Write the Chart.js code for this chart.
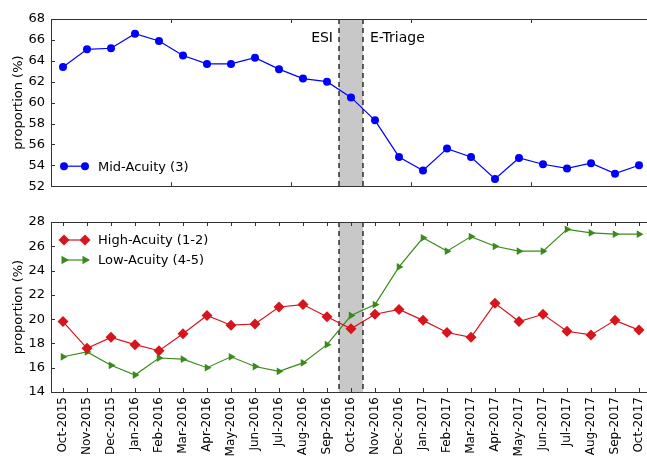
<!DOCTYPE html>
<html>
<head>
<meta charset="utf-8">
<script src="https://cdn.jsdelivr.net/npm/chart.js@4.4.1/dist/chart.umd.min.js"></script>
<style>
  html, body { margin: 0; padding: 0; background: #fff; overflow: hidden; width: 647px; height: 458px; }
  canvas { position: absolute; left: 0; }
  #topChart { top: 0; }
  #bottomChart { top: 200px; }
</style>
</head>
<body>
<canvas id="topChart" width="660" height="200"></canvas>
<canvas id="bottomChart" width="660" height="258"></canvas>
<script>
const months = ['Oct-2015', 'Nov-2015', 'Dec-2015', 'Jan-2016', 'Feb-2016', 'Mar-2016', 'Apr-2016',
  'May-2016', 'Jun-2016', 'Jul-2016', 'Aug-2016', 'Sep-2016', 'Oct-2016', 'Nov-2016', 'Dec-2016',
  'Jan-2017', 'Feb-2017', 'Mar-2017', 'Apr-2017', 'May-2017', 'Jun-2017', 'Jul-2017', 'Aug-2017',
  'Sep-2017', 'Oct-2017'];

const midAcuity = [63.4, 65.1, 65.2, 66.6, 65.9, 64.5, 63.7, 63.7, 64.3, 63.2, 62.3, 62.0, 60.5,
  58.3, 54.8, 53.5, 55.6, 54.8, 52.7, 54.7, 54.1, 53.7, 54.2, 53.2, 54.0];
const highAcuity = [19.8, 17.6, 18.5, 17.9, 17.4, 18.8, 20.3, 19.5, 19.6, 21.0, 21.2, 20.2, 19.2,
  20.4, 20.8, 19.9, 18.9, 18.5, 21.3, 19.8, 20.4, 19.0, 18.7, 19.9, 19.1];
const lowAcuity = [16.9, 17.3, 16.2, 15.4, 16.8, 16.7, 16.0, 16.9, 16.1, 15.7, 16.4, 17.9, 20.3,
  21.2, 24.3, 26.7, 25.6, 26.8, 26.0, 25.6, 25.6, 27.4, 27.1, 27.0, 27.0];

// changeover window (month index) and the labels on each side of it
const switchFrom = 11.5;
const switchTo = 12.5;
const phaseBefore = 'ESI';
const phaseAfter = 'E-Triage';

const FONT = "'DejaVu Sans', sans-serif";
Chart.defaults.font.family = FONT;
Chart.defaults.font.size = 13;
Chart.defaults.color = '#000';

function toPoints(values) {
  return values.map((v, i) => ({ x: i, y: v }));
}

// small marker shapes for the hand drawn legend
function drawMarker(ctx, shape, x, y, r) {
  ctx.beginPath();
  if (shape === 'circle') {
    ctx.arc(x, y, r, 0, Math.PI * 2);
  } else if (shape === 'diamond') {
    ctx.moveTo(x, y - r); ctx.lineTo(x + r, y); ctx.lineTo(x, y + r); ctx.lineTo(x - r, y);
    ctx.closePath();
  } else if (shape === 'triangleRight') {
    ctx.moveTo(x + r, y); ctx.lineTo(x - r * 0.5, y - r * 0.87); ctx.lineTo(x - r * 0.5, y + r * 0.87);
    ctx.closePath();
  }
  ctx.fill();
}

function framePlugin(cfg) {
  return {
    id: 'frame',
    beforeDatasetsDraw(chart) {
      const ctx = chart.ctx;
      const a = chart.chartArea;
      const xs = chart.scales.x;
      const x0 = xs.getPixelForValue(switchFrom);
      const x1 = xs.getPixelForValue(switchTo);
      ctx.save();
      ctx.fillStyle = '#c8c8c8';
      ctx.fillRect(x0, a.top, x1 - x0, a.bottom - a.top);
      ctx.strokeStyle = '#111';
      ctx.lineWidth = 1.3;
      ctx.setLineDash([5, 4]);
      [x0, x1].forEach(px => {
        ctx.beginPath();
        ctx.moveTo(px, a.top);
        ctx.lineTo(px, a.bottom);
        ctx.stroke();
      });
      ctx.restore();
    },
    afterDraw(chart) {
      const ctx = chart.ctx;
      const a = chart.chartArea;
      const xs = chart.scales.x;
      const ys = chart.scales.y;
      ctx.save();
      // spines
      ctx.strokeStyle = '#333';
      ctx.lineWidth = 1;
      ctx.strokeRect(Math.round(a.left) + 0.5, Math.round(a.top) + 0.5,
        Math.round(a.right - a.left), Math.round(a.bottom - a.top));
      // inward ticks
      ctx.beginPath();
      ys.ticks.forEach(t => {
        const py = Math.round(ys.getPixelForValue(t.value)) + 0.5;
        ctx.moveTo(a.left, py); ctx.lineTo(a.left + 4, py);
        ctx.moveTo(a.right, py); ctx.lineTo(a.right - 4, py);
      });
      cfg.xTicks.forEach(v => {
        const px = Math.round(xs.getPixelForValue(v)) + 0.5;
        ctx.moveTo(px, a.bottom); ctx.lineTo(px, a.bottom - 4);
        ctx.moveTo(px, a.top); ctx.lineTo(px, a.top + 4);
      });
      ctx.stroke();

      // phase labels
      if (cfg.phaseText) {
        ctx.font = '14px ' + FONT;
        ctx.fillStyle = '#000';
        ctx.textBaseline = 'alphabetic';
        ctx.textAlign = 'right';
        ctx.fillText(phaseBefore, xs.getPixelForValue(switchFrom) - 6, a.top + 22.5);
        ctx.textAlign = 'left';
        ctx.fillText(phaseAfter, xs.getPixelForValue(switchTo) + 7, a.top + 22.5);
      }

      // legend
      ctx.font = '13px ' + FONT;
      ctx.textAlign = 'left';
      ctx.textBaseline = 'middle';
      cfg.legend.forEach((item, k) => {
        const y = cfg.legendY(a) + k * 20;
        const lx0 = a.left + 13;
        const lx1 = a.left + 34;
        ctx.strokeStyle = item.color;
        ctx.fillStyle = item.color;
        ctx.lineWidth = 1.2;
        ctx.beginPath();
        ctx.moveTo(lx0, y); ctx.lineTo(lx1, y);
        ctx.stroke();
        drawMarker(ctx, item.shape, lx0, y, item.size);
        drawMarker(ctx, item.shape, lx1, y, item.size);
        ctx.fillStyle = '#000';
        ctx.fillText(item.label, a.left + 47, y + 1);
      });
      ctx.restore();
    }
  };
}

function yAxis(min, max) {
  return {
    min: min,
    max: max,
    border: { display: false },
    grid: { display: false, drawTicks: false },
    ticks: { stepSize: 2, padding: 6, font: { size: 13 } },
    title: { display: true, text: 'proportion (%)', font: { size: 13 }, padding: { top: 11, bottom: 0 } },
    afterFit(scale) { scale.width = 51; }
  };
}

const BLUE = '#0000ff';
const RED = '#d8141c';
const GREEN = '#3b8a1c';

// top panel: Mid-Acuity
const topTicks = [];
for (let v = -0.5; v <= 24.5; v += 5) topTicks.push(v);

new Chart(document.getElementById('topChart'), {
  type: 'line',
  data: {
    datasets: [{
      label: 'Mid-Acuity (3)',
      data: toPoints(midAcuity),
      borderColor: BLUE,
      backgroundColor: BLUE,
      borderWidth: 1.2,
      pointRadius: 4,
      pointBorderWidth: 0,
      pointStyle: 'circle',
      tension: 0
    }]
  },
  options: {
    responsive: false,
    animation: false,
    devicePixelRatio: 1,
    layout: { padding: { top: 19, right: 9, bottom: 0, left: 0 } },
    plugins: { legend: { display: false }, tooltip: { enabled: false } },
    scales: {
      x: {
        type: 'linear',
        min: -0.5,
        max: 24.5,
        border: { display: false },
        grid: { display: false, drawTicks: false },
        ticks: { display: false },
        afterFit(scale) { scale.height = 11; }
      },
      y: yAxis(52, 68)
    }
  },
  plugins: [framePlugin({
    xTicks: topTicks,
    phaseText: true,
    legendY: a => a.bottom - 20,
    legend: [{ label: 'Mid-Acuity (3)', color: BLUE, shape: 'circle', size: 4 }]
  })]
});

// bottom panel: High and Low acuity
new Chart(document.getElementById('bottomChart'), {
  type: 'line',
  data: {
    datasets: [{
      label: 'High-Acuity (1-2)',
      data: toPoints(highAcuity),
      borderColor: RED,
      backgroundColor: RED,
      borderWidth: 1.2,
      pointRadius: 5.5,
      pointBorderWidth: 0,
      pointStyle: 'rectRot',
      tension: 0
    }, {
      label: 'Low-Acuity (4-5)',
      data: toPoints(lowAcuity),
      borderColor: GREEN,
      backgroundColor: GREEN,
      borderWidth: 1.2,
      pointRadius: 4.5,
      pointBorderWidth: 0,
      pointStyle: 'triangle',
      pointRotation: 90,
      tension: 0
    }]
  },
  options: {
    responsive: false,
    animation: false,
    devicePixelRatio: 1,
    layout: { padding: { top: 22, right: 9, bottom: 0, left: 0 } },
    plugins: { legend: { display: false }, tooltip: { enabled: false } },
    scales: {
      x: {
        type: 'linear',
        min: -0.5,
        max: 24.5,
        border: { display: false },
        grid: { display: false, drawTicks: false },
        afterBuildTicks(scale) {
          scale.ticks = months.map((m, i) => ({ value: i }));
        },
        ticks: {
          autoSkip: false,
          minRotation: 90,
          maxRotation: 90,
          padding: 5,
          font: { size: 12 },
          callback: v => months[v]
        },
        afterFit(scale) { scale.height = 66; }
      },
      y: yAxis(14, 28)
    }
  },
  plugins: [framePlugin({
    xTicks: months.map((m, i) => i),
    phaseText: false,
    legendY: a => a.top + 18,
    legend: [
      { label: 'High-Acuity (1-2)', color: RED, shape: 'diamond', size: 5.5 },
      { label: 'Low-Acuity (4-5)', color: GREEN, shape: 'triangleRight', size: 5 }
    ]
  })]
});
</script>
</body>
</html>
